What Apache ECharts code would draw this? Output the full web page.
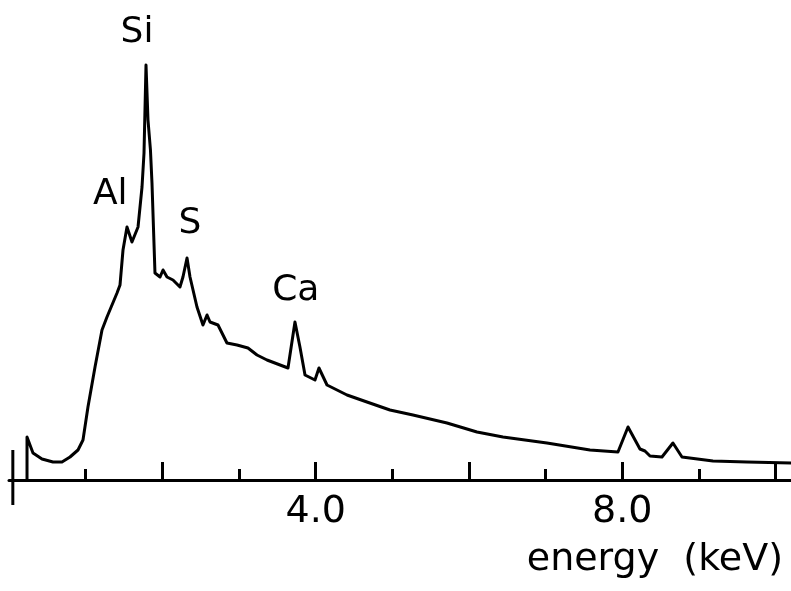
<!DOCTYPE html>
<html>
<head>
<meta charset="utf-8">
<script src="https://cdn.jsdelivr.net/npm/echarts@6/dist/echarts.min.js"></script>
<style>
html,body{margin:0;padding:0;background:#fff;}
#chart{width:791px;height:591px;}
</style>
</head>
<body>
<div id="chart"></div>
<script>
// Spectrum (energy in keV, counts in arbitrary units)
const energy = [0.235,0.235,0.313,0.430,0.574,0.691,0.796,0.900,0.965,1.030,1.122,1.213,1.278,1.409,1.448,1.487,1.539,1.604,1.683,1.735,1.761,1.787,1.800,1.813,1.845,1.865,1.904,1.970,2.009,2.061,2.139,2.230,2.269,2.322,2.361,2.452,2.530,2.583,2.622,2.726,2.778,2.843,2.974,3.117,3.235,3.365,3.639,3.730,3.795,3.861,3.991,4.043,4.148,4.409,4.669,4.969,5.269,5.713,6.104,6.443,7.017,7.578,7.943,8.074,8.230,8.295,8.361,8.517,8.660,8.778,9.182,9.626,10.2];
const counts = [0,43,27,21,18,18,23,30,40,73,113,150,163,187,195,230,253,238,253,293,327,415,415,360,330,297,207,203,210,203,200,193,203,222,203,173,155,165,158,155,147,137,135,132,125,120,112,158,133,105,100,112,95,85,78,70,65,57,48,43,37,30,28,53,31,29,24,23,37,23,19,18,17];

// Peak labels
const peakNames = ['Si','Al','S','Ca'];
const peakLabelEnergy = [1.67,1.32,2.36,3.74];
const peakLabelCount = [447,285,256,189];

// Axis ticks
const majorTicks = [2,4,6,8,10];
const minorTicks = [1,3,5,7,9];
const tickLabels = [4,8];
const axisStartEnergy = 0.05;

const FONT = 'DejaVu Sans';
const chart = echarts.init(document.getElementById('chart'), null, {renderer:'canvas'});
const black = '#000';

const option = {
  backgroundColor: '#fff',
  animation: false,
  title: {
    text: 'energy  (keV)',
    right: 8, top: 541, padding: 0,
    textStyle: {fontSize: 38, fontWeight: 'normal', fontFamily: FONT, color: black}
  },
  grid: {left: 9, right: 0, top: 0, bottom: 111, outerBoundsMode: 'none'},
  xAxis: [
    {
      type: 'value', min: 0, max: 10.2, position: 'bottom',
      axisLine: {show: true, onZero: false, lineStyle: {color: black, width: 3}},
      axisTick: {show: true, inside: true, length: 18, customValues: majorTicks, lineStyle: {color: black, width: 3}},
      axisLabel: {show: true, customValues: tickLabels, formatter: v => Number(v).toFixed(1), fontSize: 38, fontFamily: FONT, color: black, margin: 13},
      splitLine: {show: false}
    },
    {
      type: 'value', min: 0, max: 10.2, position: 'bottom', offset: 0,
      axisLine: {show: false, onZero: false},
      axisTick: {show: true, inside: true, length: 11, customValues: minorTicks, lineStyle: {color: black, width: 3}},
      axisLabel: {show: false},
      splitLine: {show: false}
    }
  ],
  yAxis: {type: 'value', min: 0, max: 480, show: false, splitLine: {show: false}},
  series: [
    {
      type: 'line',
      data: energy.map((e, i) => [e, counts[i]]),
      symbol: 'none',
      smooth: false,
      lineStyle: {color: black, width: 3, join: 'round'},
      clip: false
    },
    {
      type: 'scatter',
      data: peakNames.map((n, i) => ({name: n, value: [peakLabelEnergy[i], peakLabelCount[i]]})),
      symbolSize: 0,
      itemStyle: {color: '#000'},
      clip: false,
      silent: true,
      label: {show: true, position: 'inside', formatter: p => p.name, fontSize: 36, fontFamily: FONT, color: '#000', opacity: 1, textBorderWidth: 0}
    }
  ]
};
chart.setOption(option);

// left end bar of the energy axis, placed through the axis scale
const p0 = chart.convertToPixel({gridIndex: 0}, [axisStartEnergy, 0]);
chart.setOption({
  graphic: [{
    type: 'line', silent: true,
    shape: {x1: p0[0], y1: p0[1] - 30, x2: p0[0], y2: p0[1] + 25},
    style: {stroke: black, lineWidth: 3}
  }]
});
</script>
</body>
</html>
